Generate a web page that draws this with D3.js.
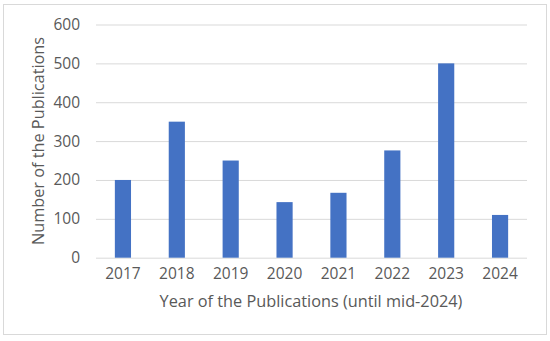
<!DOCTYPE html>
<html><head><meta charset="utf-8">
<script src="https://cdn.jsdelivr.net/npm/d3@7"></script>
<style>body{margin:0;background:#fff}text{font-family:"Open Sans",sans-serif;fill:#595959}</style>
</head><body><svg id="c" width="550" height="341"></svg>
<script>
const years = ["2017","2018","2019","2020","2021","2022","2023","2024"];
const publications = [200, 350, 250, 143, 167, 276, 500, 110];
const yTicks = [0, 100, 200, 300, 400, 500, 600];
const xTitle = "Year of the Publications (until mid-2024)";
const yTitle = "Number of the Publications";

const svg = d3.select("#c");
svg.append("rect").attr("x",3.5).attr("y",4.5).attr("width",543).attr("height",330)
  .attr("fill","#fff").attr("stroke","#d9d9d9");

const x = d3.scaleBand().domain(years).range([96, 527]).paddingInner(0.7).paddingOuter(0.35);
const y = d3.scaleLinear().domain([0, 600]).range([257.7, 24.5]);

const grid = svg.append("g").attr("transform","translate(96,0)")
  .call(d3.axisLeft(y).tickValues(yTicks).tickSize(-431).tickFormat(""));
grid.select(".domain").remove();
grid.selectAll("line").attr("stroke","#d9d9d9");

svg.append("g").selectAll("rect").data(publications).join("rect")
  .attr("x",(d,i)=>x(years[i])).attr("width",x.bandwidth())
  .attr("y",d=>y(d)).attr("height",d=>y(0)-y(d)).attr("fill","#4472C4");

const ya = svg.append("g").attr("transform","translate(80,0)")
  .call(d3.axisLeft(y).tickValues(yTicks).tickSize(0).tickPadding(0));
ya.select(".domain").remove();
ya.selectAll("text").attr("font-size",15.5).attr("font-family","Open Sans").attr("fill","#595959");

const xa = svg.append("g").attr("transform","translate(0,257.7)")
  .call(d3.axisBottom(x).tickSize(0).tickPadding(10));
xa.select(".domain").remove();
xa.selectAll("text").attr("font-size",15.5).attr("font-family","Open Sans").attr("fill","#595959");

svg.append("text").attr("x",311).attr("y",306.7).attr("text-anchor","middle")
  .attr("font-size",16.3).text(xTitle);
svg.append("text").attr("transform","translate(44,141) rotate(-90)").attr("text-anchor","middle")
  .attr("font-size",16.3).text(yTitle);
</script></body></html>
